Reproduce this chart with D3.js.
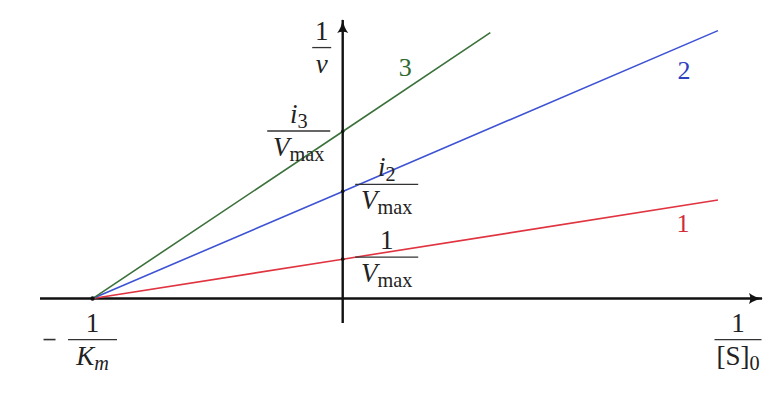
<!DOCTYPE html>
<html>
<head>
<meta charset="utf-8">
<script src="https://cdn.jsdelivr.net/npm/d3@7"></script>
<style>
  html, body { margin: 0; padding: 0; background: #ffffff; }
  svg { display: block; }
</style>
</head>
<body>
<svg id="chart" width="772" height="394"></svg>
<script>
// Lineweaver–Burk plot: 1/v against 1/[S]0 for three inhibitor levels
const lineNames   = ["1", "2", "3"];
const lineColors  = ["#e03440", "#3d52d4", "#3b723b"];
const labelColors = ["#d02c3a", "#2c40c0", "#2e6a2e"];
const rootX       = -1;               // x-intercept, -1/Km
const intercepts  = [1, 2.72, 4.24];  // y-intercepts, i/Vmax
const endX        = [1.5, 1.5, 0.59];
const endY        = [2.5, 6.8, 6.75];
const labelPos    = [[1.36, 1.69], [1.364, 5.57], [0.25, 5.65]];

const xDomain = [-1.21, 1.676];
const yDomain = [-0.62, 7.07];
const FONT = "'Liberation Serif', 'DejaVu Serif', serif";

const svg = d3.select("#chart");
const x = d3.scaleLinear().domain(xDomain).range([40, 762]);
const y = d3.scaleLinear().domain(yDomain).range([323, 20]);

// arrowhead
const defs = svg.append("defs");
defs.append("marker")
  .attr("id", "arrow")
  .attr("viewBox", "-2 -6 18 12")
  .attr("refX", 13).attr("refY", 0)
  .attr("markerUnits", "userSpaceOnUse")
  .attr("markerWidth", 18).attr("markerHeight", 12)
  .attr("orient", "auto")
  .append("path")
  .attr("d", "M0,-5.5 Q6,-1 14,0 Q6,1 0,5.5 Q2.5,0 0,-5.5 Z")
  .attr("fill", "#111");

// axes
svg.append("line")
  .attr("x1", x(xDomain[0])).attr("y1", y(0))
  .attr("x2", x(xDomain[1])).attr("y2", y(0))
  .attr("stroke", "#111").attr("stroke-width", 2.4)
  .attr("marker-end", "url(#arrow)");
svg.append("line")
  .attr("x1", x(0)).attr("y1", y(yDomain[0]))
  .attr("x2", x(0)).attr("y2", y(yDomain[1]))
  .attr("stroke", "#111").attr("stroke-width", 2.4)
  .attr("marker-end", "url(#arrow)");

// regression lines
const line = d3.line().x(d => x(d[0])).y(d => y(d[1]));
lineNames.forEach((name, i) => {
  const pts = [[rootX, 0], [0, intercepts[i]], [endX[i], endY[i]]];
  svg.append("path")
    .attr("d", line(pts))
    .attr("fill", "none")
    .attr("stroke", lineColors[i])
    .attr("stroke-width", 1.6);
  svg.append("text")
    .attr("x", x(labelPos[i][0])).attr("y", y(labelPos[i][1]))
    .attr("text-anchor", "middle")
    .attr("font-family", FONT)
    .attr("font-size", 26)
    .attr("fill", labelColors[i])
    .text(name);
});

// marks where lines meet the axes
svg.append("circle").attr("cx", x(rootX)).attr("cy", y(0)).attr("r", 2.2).attr("fill", "#111");
intercepts.forEach(v => {
  svg.append("circle").attr("cx", x(0)).attr("cy", y(v)).attr("r", 1.8).attr("fill", "#111");
});

// fraction label: numerator and denominator parts centred on a bar
function fraction(cx, barY, w, num, den, fs) {
  const g = svg.append("g");
  g.append("line")
    .attr("x1", cx - w / 2).attr("x2", cx + w / 2)
    .attr("y1", barY).attr("y2", barY)
    .attr("stroke", "#333").attr("stroke-width", 1.3);
  const put = (parts, baseY) => {
    const t = g.append("text")
      .attr("x", cx).attr("y", baseY)
      .attr("text-anchor", "middle")
      .attr("font-family", FONT)
      .attr("fill", "#222")
      .attr("font-size", fs);
    parts.forEach(p => {
      const s = t.append("tspan").text(p.t);
      if (p.it) s.attr("font-style", "italic");
      if (p.sub) s.attr("font-size", fs * 0.75).attr("dy", p.dy || 5);
    });
  };
  put(num, barY - 8);
  put(den, barY + 25);
}

const Vmax = [{ t: "V", it: true }, { t: "max", sub: true, dy: 5 }];

fraction(x(0) - 21, y(0) - 251, 19, [{ t: "1" }], [{ t: "v", it: true }], 27);
fraction(x(0) - 44, y(intercepts[2]) - 0.5, 63,
  [{ t: "i", it: true }, { t: "3", sub: true, dy: 5 }], Vmax, 27);
fraction(x(0) + 44, y(intercepts[1]) - 7, 63,
  [{ t: "i", it: true }, { t: "2", sub: true, dy: 5 }], Vmax, 27);
fraction(x(0) + 44, y(intercepts[0]) - 2, 63, [{ t: "1" }], Vmax, 27);
fraction(x(rootX), y(0) + 41, 49, [{ t: "1" }],
  [{ t: "K", it: true }, { t: "m", it: true, sub: true, dy: 5 }], 27);
svg.append("line")
  .attr("x1", x(rootX) - 49).attr("x2", x(rootX) - 37)
  .attr("y1", y(0) + 41).attr("y2", y(0) + 41)
  .attr("stroke", "#333").attr("stroke-width", 1.6);
fraction(x(1.676) - 24, y(0) + 41, 47, [{ t: "1" }],
  [{ t: "[S]" }, { t: "0", sub: true, dy: 5 }], 27);
</script>
</body>
</html>
